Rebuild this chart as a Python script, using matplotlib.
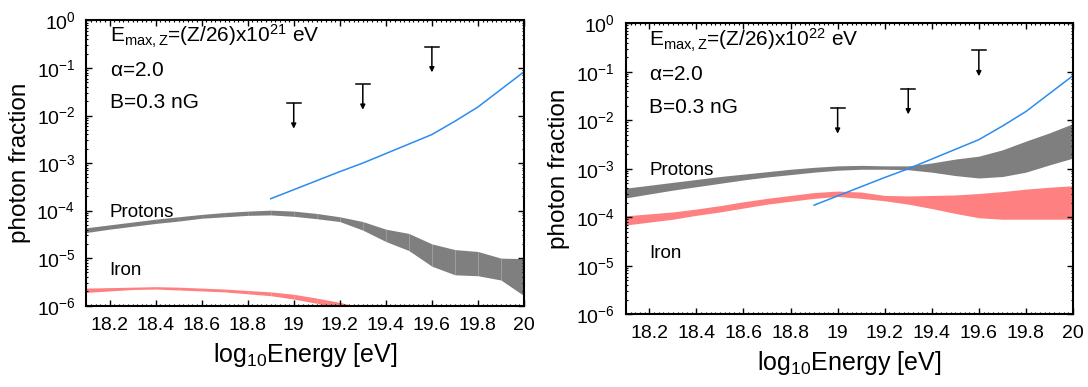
import numpy as np
import matplotlib
matplotlib.use("Agg")
import matplotlib.pyplot as plt
from matplotlib.ticker import FixedLocator, LogLocator, NullFormatter, MultipleLocator

plt.rcParams['font.family'] = ['Liberation Sans', 'DejaVu Sans']
plt.rcParams['mathtext.fontset'] = 'custom'
plt.rcParams['mathtext.rm'] = 'Liberation Sans'
plt.rcParams['mathtext.it'] = 'Liberation Sans:italic'
plt.rcParams['mathtext.default'] = 'regular'

# log10 energy grid (0.1 steps)
energy = [18.1, 18.2, 18.3, 18.4, 18.5, 18.6, 18.7, 18.8, 18.9, 19.0,
          19.1, 19.2, 19.3, 19.4, 19.5, 19.6, 19.7, 19.8, 19.9, 20.0]

# left panel: Emax = (Z/26) x 1e21 eV  (log10 photon fraction, band edges)
p21_hi = [-4.36, -4.30, -4.24, -4.18, -4.13, -4.08, -4.04, -4.01, -3.99, -4.01,
          -4.06, -4.13, -4.23, -4.39, -4.48, -4.70, -4.82, -4.86, -5.00, -5.01]
p21_lo = [-4.46, -4.39, -4.33, -4.27, -4.22, -4.16, -4.13, -4.10, -4.09, -4.12,
          -4.17, -4.23, -4.41, -4.65, -4.84, -5.17, -5.35, -5.37, -5.46, -5.79]
fe21_hi = [-5.63, -5.62, -5.61, -5.60, -5.61, -5.63, -5.65, -5.68, -5.71, -5.76,
           -5.84, -5.93, -6.05, -6.2, -6.35, -6.5, -6.65, -6.8, -6.95, -7.1]
fe21_lo = [-5.72, -5.69, -5.66, -5.65, -5.67, -5.69, -5.71, -5.75, -5.79, -5.86,
           -5.95, -6.05, -6.2, -6.35, -6.5, -6.65, -6.8, -6.95, -7.1, -7.25]

# right panel: Emax = (Z/26) x 1e22 eV
p22_hi = [-3.40, -3.34, -3.28, -3.22, -3.16, -3.11, -3.06, -3.01, -2.97, -2.94,
          -2.93, -2.94, -2.94, -2.88, -2.80, -2.74, -2.61, -2.43, -2.26, -2.07]
p22_lo = [-3.60, -3.52, -3.44, -3.37, -3.30, -3.23, -3.17, -3.12, -3.07, -3.03,
          -3.01, -3.01, -3.02, -3.07, -3.14, -3.19, -3.16, -3.07, -2.92, -2.78]
fe22_hi = [-3.97, -3.93, -3.89, -3.83, -3.76, -3.68, -3.61, -3.55, -3.49, -3.46,
           -3.48, -3.55, -3.56, -3.55, -3.54, -3.51, -3.47, -3.42, -3.38, -3.35]
fe22_lo = [-4.16, -4.10, -4.04, -3.96, -3.89, -3.81, -3.73, -3.67, -3.61, -3.57,
           -3.61, -3.66, -3.73, -3.82, -3.92, -4.01, -4.04, -4.04, -4.04, -4.04]

# blue line (same in both panels)
blue_e = [18.9, 19.0, 19.1, 19.2, 19.3, 19.4, 19.5, 19.6, 19.7, 19.8, 19.9, 20.0]
blue_f = [-3.75, -3.56, -3.37, -3.18, -3.00, -2.80, -2.60, -2.40, -2.12, -1.82, -1.45, -1.08]

# upper limits
lim_e = [19.0, 19.3, 19.6]
lim_f = [0.018, 0.045, 0.275]

xticks = [18.2, 18.4, 18.6, 18.8, 19.0, 19.2, 19.4, 19.6, 19.8, 20.0]


def band(ax, hi, lo, color, seams):
    x = np.array(energy)
    hi = 10 ** np.array(hi)
    lo = 10 ** np.array(lo)
    if seams:
        for i in range(len(x) - 1):
            ax.fill_between(x[i:i + 2], lo[i:i + 2], hi[i:i + 2], color=color, lw=0)
    else:
        ax.fill_between(x, lo, hi, color=color, lw=0)


def panel(ax, exp, ph, pl, fh, fl, seams, prot_y, iron_y):
    band(ax, ph, pl, '#7f7f7f', seams)
    band(ax, fh, fl, '#ff8080', seams)
    ax.plot(blue_e, 10 ** np.array(blue_f), color='#2a8cf0', lw=1.1)
    for e, f in zip(lim_e, lim_f):
        ax.plot([e - 0.03, e + 0.03], [f, f], color='k', lw=1.1)
        ax.annotate('', xy=(e, f / 3.4), xytext=(e, f),
                    arrowprops=dict(arrowstyle='-|>', color='k', lw=1.1,
                                    mutation_scale=7, shrinkA=0, shrinkB=0))
    ax.set_yscale('log')
    ax.set_xlim(18.1, 20.0)
    ax.set_ylim(1e-6, 1)
    ax.xaxis.set_major_locator(FixedLocator(xticks))
    ax.set_xticklabels(['%g' % t for t in xticks])
    ax.xaxis.set_minor_locator(MultipleLocator(0.02))
    ax.yaxis.set_major_locator(LogLocator(base=10, numticks=10))
    ax.yaxis.set_minor_locator(LogLocator(base=10, subs=np.arange(2, 10), numticks=10))
    ax.yaxis.set_minor_formatter(NullFormatter())
    ax.tick_params(which='both', direction='in', top=True, right=True, labelsize=14)
    ax.tick_params(which='major', length=4, width=1.0, pad=8)
    ax.tick_params(which='minor', length=1.5, width=0.8)
    for s in ax.spines.values():
        s.set_linewidth(1.5)
    ax.set_xlabel(r'log$_{10}$Energy [eV]', fontsize=18, labelpad=5)
    ax.set_ylabel('photon fraction', fontsize=17.5, labelpad=4)
    ax.text(18.2, 10 ** -0.47, r'E$_{max,Z}$=(Z/26)x10$^{%d}$ eV' % exp, fontsize=15)
    ax.text(18.2, 10 ** -1.16, r'$\alpha$=2.0', fontsize=15)
    ax.text(18.2, 10 ** -1.85, 'B=0.3 nG', fontsize=15)
    ax.text(18.2, 10 ** prot_y, 'Protons', fontsize=13.5)
    ax.text(18.2, 10 ** iron_y, 'Iron', fontsize=13.5)


fig = plt.figure(figsize=(10.88, 3.87), dpi=100)
ax1 = fig.add_axes([0.0795, 0.2101, 0.4021, 0.737])
ax2 = fig.add_axes([0.5752, 0.1879, 0.4110, 0.752])

panel(ax1, 21, p21_hi, p21_lo, fe21_hi, fe21_lo, True, -4.13, -5.35)
panel(ax2, 22, p22_hi, p22_lo, fe22_hi, fe22_lo, False, -3.13, -4.84)

fig.savefig('out.png', dpi=100)
